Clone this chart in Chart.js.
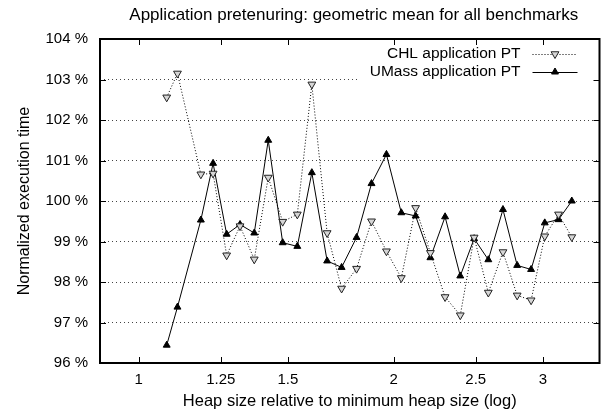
<!DOCTYPE html>
<html>
<head>
<meta charset="utf-8">
<script src="https://cdn.jsdelivr.net/npm/chart.js@4/dist/chart.umd.min.js"></script>
<style>
  html, body { margin: 0; padding: 0; background: #fff; }
  #wrap { width: 605px; height: 415px; }
</style>
</head>
<body>
<div id="wrap"><canvas id="chart" width="605" height="415"></canvas></div>
<script>
// heap size relative to minimum (x), normalized execution time in % (y)
const heapSizes = [1.079, 1.111, 1.184, 1.224, 1.27, 1.317, 1.369, 1.422, 1.479, 1.539,
  1.601, 1.669, 1.736, 1.808, 1.883, 1.961, 2.042, 2.123, 2.21, 2.30,
  2.397, 2.489, 2.587, 2.692, 2.798, 2.906, 3.016, 3.131, 3.246];
const chlValues = [102.56, 103.15, 100.66, 100.68, 98.66, 99.38, 98.56, 100.58, 99.49, 99.67,
  102.88, 99.21, 97.84, 98.33, 99.50, 98.76, 98.10, 99.83, 98.72, 97.63,
  97.18, 99.10, 97.74, 98.74, 97.67, 97.55, 99.13, 99.67, 99.11];
const umassValues = [96.44, 97.38, 99.53, 100.93, 99.18, 99.42, 99.21, 101.50, 98.97, 98.88,
  100.70, 98.52, 98.36, 99.10, 100.43, 101.15, 99.71, 99.63, 98.60, 99.61,
  98.15, 99.07, 98.55, 99.79, 98.41, 98.31, 99.46, 99.54, 100.00];
const xTicks = [1, 1.25, 1.5, 2, 2.5, 3];
const xTickLabels = ['1', '1.25', '1.5', '2', '2.5', '3'];
const yTicks = [96, 97, 98, 99, 100, 101, 102, 103, 104];
const seriesNames = ['CHL application PT', 'UMass application PT'];
const chartTitle = 'Application pretenuring: geometric mean for all benchmarks';

const FONT = 'Liberation Sans, Arial, Helvetica, sans-serif';
const FSIZE = 15;

const toPoints = (vals) => vals.map((v, i) => ({ x: heapSizes[i], y: v }));

// title centred over the plot, like gnuplot
const titlePlugin = {
  id: 'plotTitle',
  afterDraw(chart) {
    const { ctx, chartArea: a } = chart;
    ctx.save();
    ctx.font = '17px ' + FONT;
    ctx.fillStyle = '#000';
    ctx.textAlign = 'center';
    ctx.textBaseline = 'middle';
    ctx.fillText(chartTitle, (a.left + a.right) / 2 + 4, 15);
    ctx.restore();
  }
};

// frame + inward tick marks
const framePlugin = {
  id: 'frame',
  afterDatasetsDraw(chart) {
    const { ctx, chartArea: a, scales } = chart;
    ctx.save();
    ctx.strokeStyle = '#000';
    ctx.lineWidth = 1;
    const len = 6;
    ctx.beginPath();
    xTicks.forEach(v => {
      const px = Math.round(scales.x.getPixelForValue(v)) + 0.5;
      ctx.moveTo(px, a.bottom); ctx.lineTo(px, a.bottom - len);
      ctx.moveTo(px, a.top); ctx.lineTo(px, a.top + len);
    });
    yTicks.forEach(v => {
      const py = Math.round(scales.y.getPixelForValue(v)) + 0.5;
      ctx.moveTo(a.left, py); ctx.lineTo(a.left + len, py);
      ctx.moveTo(a.right, py); ctx.lineTo(a.right - len, py);
    });
    ctx.stroke();
    ctx.lineWidth = 2;
    ctx.strokeRect(a.left, a.top, a.right - a.left, a.bottom - a.top);
    ctx.restore();
  }
};

// key drawn inside the plot, top right, with an opaque box
const keyPlugin = {
  id: 'key',
  beforeDatasetsDraw(chart) {
    const { ctx, chartArea: a } = chart;
    const textRight = a.right - 79;
    const rowY = [a.top + 15, a.top + 33];
    ctx.save();
    ctx.font = '15.5px ' + FONT;
    const w = Math.max(...seriesNames.map(s => ctx.measureText(s).width));
    ctx.fillStyle = '#fff';
    ctx.fillRect(textRight - w - 10, a.top + 2, a.right - (textRight - w - 10) - 2, rowY[1] + 12 - a.top);
    ctx.fillStyle = '#000';
    ctx.textAlign = 'right';
    ctx.textBaseline = 'middle';
    chart.data.datasets.forEach((ds, i) => {
      const y = rowY[i];
      ctx.fillText(seriesNames[i], textRight, y);
      ctx.save();
      ctx.strokeStyle = '#000';
      ctx.lineWidth = 1;
      ctx.setLineDash(ds.borderDash || []);
      ctx.beginPath();
      ctx.moveTo(textRight + 12, y + 0.5);
      ctx.lineTo(textRight + 57, y + 0.5);
      ctx.stroke();
      ctx.setLineDash([]);
      ctx.fillStyle = ds.pointBackgroundColor;
      ctx.strokeStyle = ds.pointBorderColor;
      Chart.helpers.drawPoint(ctx, {
        pointStyle: 'triangle', radius: ds.pointRadius,
        rotation: ds.pointRotation || 0, borderWidth: ds.pointBorderWidth
      }, textRight + 34.5, y);
      ctx.restore();
    });
    ctx.restore();
  }
};

const ctx = document.getElementById('chart').getContext('2d');
new Chart(ctx, {
  type: 'line',
  data: {
    datasets: [{
      label: seriesNames[0],
      data: toPoints(chlValues),
      borderColor: '#000',
      borderWidth: 1,
      borderDash: [1, 2],
      pointStyle: 'triangle',
      pointRotation: 180,
      pointRadius: 4.5,
      pointBackgroundColor: '#d6d6d6',
      pointBorderColor: '#222',
      pointBorderWidth: 1,
      tension: 0
    }, {
      label: seriesNames[1],
      data: toPoints(umassValues),
      borderColor: '#000',
      borderWidth: 1,
      pointStyle: 'triangle',
      pointRadius: 4,
      pointBackgroundColor: '#000',
      pointBorderColor: '#000',
      pointBorderWidth: 1,
      tension: 0
    }]
  },
  options: {
    responsive: false,
    animation: false,
    layout: { padding: { left: 0, right: 2, top: 39, bottom: 0 } },
    plugins: {
      legend: { display: false },
      tooltip: { enabled: false },
      title: { display: false }
    },
    scales: {
      x: {
        type: 'logarithmic',
        min: 0.9,
        max: 3.5,
        afterBuildTicks: (scale) => { scale.ticks = xTicks.map(v => ({ value: v })); },
        afterFit: (scale) => { scale.height = 52; },
        grid: { display: false, drawTicks: false },
        border: { display: false },
        ticks: {
          autoSkip: false,
          maxRotation: 0,
          padding: 8,
          color: '#000',
          font: { family: FONT, size: FSIZE },
          callback: (v) => { const i = xTicks.indexOf(v); return i >= 0 ? xTickLabels[i] : ''; }
        },
        title: {
          display: true,
          text: 'Heap size relative to minimum heap size (log)',
          color: '#000',
          font: { family: FONT, size: 16.5 },
          padding: { top: 0, bottom: 4 }
        }
      },
      y: {
        min: 96,
        max: 104,
        afterBuildTicks: (scale) => { scale.ticks = yTicks.map(v => ({ value: v })); },
        afterFit: (scale) => { scale.width = 100; },
        grid: { color: '#444', lineWidth: 1, borderDash: [1, 3], drawTicks: false },
        border: { display: false, dash: [1, 3] },
        ticks: {
          padding: 12,
          color: '#000',
          font: { family: FONT, size: FSIZE },
          callback: (v) => v + ' %'
        },
        title: {
          display: true,
          text: 'Normalized execution time',
          color: '#000',
          font: { family: FONT, size: 16 },
          padding: { top: 15, bottom: 0 }
        }
      }
    }
  },
  plugins: [keyPlugin, framePlugin, titlePlugin]
});
</script>
</body>
</html>
